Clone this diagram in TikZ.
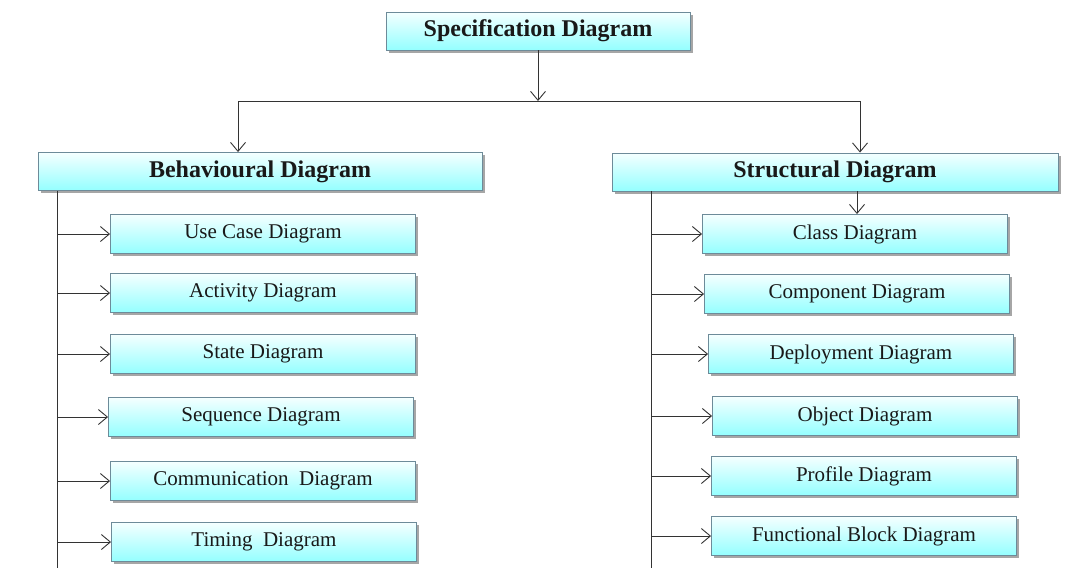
\documentclass[tikz,border=0pt]{standalone}
\usepackage{fontspec}
\setmainfont{Liberation Serif}
\usetikzlibrary{arrows.meta,shadows}
\begin{document}
\begin{tikzpicture}[x=1pt,y=-1pt,
  boxbase/.style={draw=black!40!cyan!50!gray, line width=0.9pt, top color=cyan!4, bottom color=cyan!42,
    drop shadow={shadow xshift=2.5pt, shadow yshift=-2.5pt, fill=black, opacity=0.35},
    inner sep=0pt, text=black!90},
  headbox/.style={boxbase, minimum height=38pt, font=\fontsize{24}{26}\selectfont\bfseries},
  childbox/.style={boxbase, minimum width=305pt, minimum height=39pt, font=\fontsize{21}{24}\selectfont},
  conn/.style={draw=black!80, line width=0.9pt},
  arr/.style={conn, -{Straight Barb[length=9pt,width=15pt,line width=0.9pt]}}
]
\useasboundingbox (0,0) rectangle (1076,581);
\fill[white] (0,0) rectangle (1076,581);

% heads
\node[headbox, minimum width=304pt] (spec) at (538,31) {Specification Diagram};
\node[headbox, minimum width=444pt] (beh) at (260,171.5) {Behavioural Diagram};
\node[headbox, minimum width=446pt] (str) at (835,172) {Structural Diagram};

% top connectors
\coordinate (hm) at (538,101);
\coordinate (hl) at (238,101);
\coordinate (hr) at (860,101);
\draw[arr] (spec.south) -- (hm);
\draw[conn] (hl) -- (hr);
\draw[arr] (hl) -- (beh.north -| hl);
\draw[arr] (hr) -- (str.north -| hr);

% left children
\node[childbox] (uc)  at (263,234) {Use Case Diagram};
\node[childbox] (act) at (263,293) {Activity Diagram};
\node[childbox] (st)  at (263,354) {State Diagram};
\node[childbox] (seq) at (261,417) {Sequence Diagram};
\node[childbox] (com) at (263,481) {Communication \ Diagram};
\node[childbox] (tim) at (264,542) {Timing \ Diagram};

% right children
\node[childbox] (cls) at (855,234) {Class Diagram};
\node[childbox] (cmp) at (857,294) {Component Diagram};
\node[childbox] (dep) at (861,354) {Deployment Diagram};
\node[childbox] (obj) at (865,416) {Object Diagram};
\node[childbox] (pro) at (864,476) {Profile Diagram};
\node[childbox] (fun) at (864,536) {Functional Block Diagram};

% trunks
\coordinate (lt) at (57,190.5);
\coordinate (lb) at (57,568);
\coordinate (rt) at (651,191);
\coordinate (rb) at (651,568);
\draw[conn] (lt) -- (lb);
\draw[conn] (rt) -- (rb);

\foreach \n in {uc,act,st,seq,com,tim}{
  \draw[arr] (\n.west -| lt) -- (\n.west);
}
\foreach \n in {cls,cmp,dep,obj,pro,fun}{
  \draw[arr] (\n.west -| rt) -- (\n.west);
}
\draw[arr] (str.south -| cls.north) ++(2,0) coordinate (sa) (sa) -- (sa |- cls.north);
\end{tikzpicture}
\end{document}
